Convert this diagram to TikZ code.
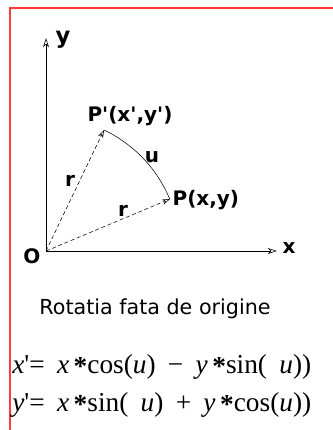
\documentclass[tikz,border=0pt]{standalone}
\usepackage{fontspec}
\setmainfont{Liberation Serif}
\newfontfamily\labelfont{DejaVu Sans}
\usetikzlibrary{arrows.meta}
\definecolor{framered}{HTML}{FF3B3B}
\newcommand{\mult}{\,\raisebox{-1.5pt}{\textbf{*}}}
\newcommand{\prm}{\textquotesingle}

\begin{document}
\begin{tikzpicture}[x=0.75pt,y=-0.75pt,
    axis/.style={thin,-{Stealth[open,length=7pt,width=4.5pt]}},
    radvec/.style={thin,densely dashed,-{Stealth[open,length=6pt,width=4pt]}},
    lbl/.style={font={\labelfont\bfseries\fontsize{15}{18}\selectfont},inner sep=1pt},
    caption/.style={font={\labelfont\fontsize{15.5}{18}\selectfont},inner sep=0pt},
    formula/.style={font={\fontsize{20.5}{24}\selectfont\spaceskip=0.45em},
      inner sep=0pt,anchor=west}
  ]
    \useasboundingbox (0,0) rectangle (333,430);
    \draw[framered,line width=1.5pt] (10,432) -- (10,8) -- (335,8);

    % axes and points
    \coordinate (O) at (46,251);
    \coordinate (xend) at (277,251);
    \coordinate (yend) at (46,38);
    \coordinate (P) at (170,199);
    \coordinate (Pp) at (104,130);

    \draw[axis] (O) -- (xend);
    \draw[axis] (O) -- (yend);
    \draw[radvec] (O) -- (P);
    \draw[radvec] (O) -- (Pp);
    \draw[thin] (Pp) arc[start angle=-64.6,end angle=-22.5,radius=133];

    \node[lbl] (ylabel) at (63,40) {\fontsize{17}{18}\selectfont y};
    \node[lbl] (xlabel) at (289,248) {x};
    \node[lbl] (olabel) at (32,256) {O};
    \node[lbl,anchor=west] (plabel) at (171,200) {P(x,y)};
    \node[lbl] (pplabel) at (130,116) {P'(x',y')};
    \node[lbl] (rtop) at (70,181) {r};
    \node[lbl] (rbottom) at (123,211) {r};
    \node[lbl] (ulabel) at (152,157) {u};

    % caption and formulas
    \node[caption] (title) at (155,309) {Rotatia fata de origine};
    \node[formula] (xform) at (12,367)
      {\textit{x}\prm= \textit{x}\mult cos(\textit{u}) − \textit{y}\mult sin( \textit{u}))};
    \node[formula] (yform) at (12,405)
      {\textit{y}\prm= \textit{x}\mult sin( \textit{u}) + \textit{y}\mult cos(\textit{u}))};
\end{tikzpicture}
\end{document}
